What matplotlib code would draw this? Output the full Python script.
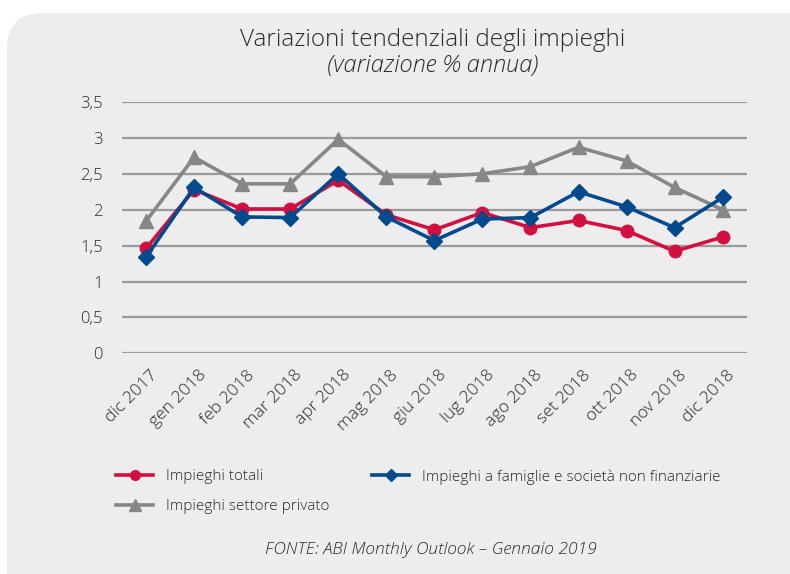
import matplotlib
matplotlib.use("Agg")
import matplotlib.pyplot as plt
import matplotlib.transforms as mtransforms
from matplotlib.patches import FancyBboxPatch
from matplotlib.lines import Line2D

plt.rcParams['font.family'] = ['Open Sans', 'DejaVu Sans']

# data
mesi = ["dic 2017", "gen 2018", "feb 2018", "mar 2018", "apr 2018", "mag 2018",
        "giu 2018", "lug 2018", "ago 2018", "set 2018", "ott 2018", "nov 2018",
        "dic 2018"]
totali = [1.46, 2.28, 2.01, 2.01, 2.41, 1.93, 1.72, 1.96, 1.75, 1.85, 1.71, 1.42, 1.62]
famiglie = [1.34, 2.31, 1.90, 1.89, 2.50, 1.90, 1.57, 1.87, 1.89, 2.25, 2.04, 1.75, 2.17]
privato = [1.84, 2.73, 2.36, 2.36, 2.98, 2.46, 2.46, 2.50, 2.60, 2.87, 2.68, 2.31, 2.00]
y_ticks = [0, 0.5, 1, 1.5, 2, 2.5, 3, 3.5]
y_labels = ["0", "0,5", "1", "1,5", "2", "2,5", "3", "3,5"]

RED = "#d20f3f"
BLUE = "#004a8d"
GREY = "#87878a"
BG = "#ededed"
TXT = "#2a2a2a"

W, H = 790, 574
fig = plt.figure(figsize=(W / 100, H / 100), dpi=100)
fig.patch.set_facecolor("white")

# rounded grey panel
panel = FancyBboxPatch((7 / W, -0.1), 1.2, (H - 13) / H + 0.1,
                       boxstyle="round,pad=0,rounding_size=0.045",
                       transform=fig.transFigure, facecolor=BG, edgecolor="none",
                       zorder=-10, mutation_aspect=W / H)
fig.patches.append(panel)

ax = fig.add_axes([122 / W, 1 - 353.3 / H, (746.7 - 122) / W, (353.3 - 102) / H])
ax.set_facecolor("none")

x = list(range(len(mesi)))
ax.plot(x, privato, color=GREY, lw=2.6, marker="^", ms=10, zorder=3,
        label="Impieghi settore privato")
ax.plot(x, totali, color=RED, lw=2.6, marker="o", ms=9, zorder=4,
        label="Impieghi totali")
ax.plot(x, famiglie, color=BLUE, lw=2.6, marker="D", ms=8, zorder=5,
        label="Impieghi a famiglie e società non finanziarie")

ax.set_xlim(-0.5, len(mesi) - 0.5)
ax.set_ylim(0, 3.5)
ax.set_yticks(y_ticks)
ax.set_yticklabels(y_labels, fontsize=12, color=TXT, fontweight="light")
ax.yaxis.grid(True, color="#9b9b9b", lw=1.6)
ax.set_axisbelow(True)
ax.tick_params(axis="y", length=0, pad=14)
ax.tick_params(axis="x", length=0, pad=10)
ax.set_xticks(x)
ax.set_xticklabels(mesi, rotation=45, ha="right", va="top", rotation_mode="anchor",
                   fontsize=12.5, color=TXT, fontweight="light")
shift = mtransforms.ScaledTranslation(4 / 100, 0, fig.dpi_scale_trans)
for lbl in ax.get_xticklabels():
    lbl.set_transform(lbl.get_transform() + shift)
for s in ax.spines.values():
    s.set_visible(False)

fig.text(433 / W, 1 - 40 / H, "Variazioni tendenziali degli impieghi",
         ha="center", va="center", fontsize=17.5, color=TXT, fontweight="light")
fig.text(433 / W, 1 - 66 / H, "(variazione % annua)", ha="center", va="center",
         fontsize=17, style="italic", color=TXT, fontweight="light")

# legend entries placed individually
def entry(px, py, color, marker, ms, text):
    h = Line2D([], [], color=color, lw=2.6, marker=marker, ms=ms)
    lg = fig.legend([h], [text], loc="center left",
                    bbox_to_anchor=(px / W, 1 - py / H), frameon=False,
                    prop={"size": 11, "weight": "light"},
                    handlelength=2.45, handletextpad=0.8,
                    borderpad=0, borderaxespad=0, labelcolor=TXT)
    return lg

entry(116, 477, RED, "o", 7, "Impieghi totali")
entry(372, 477, BLUE, "D", 6, "Impieghi a famiglie e società non finanziarie")
entry(116, 507, GREY, "^", 8, "Impieghi settore privato")

fig.text(431 / W, 1 - 550 / H, "FONTE: ABI Monthly Outlook \u2013 Gennaio 2019",
         ha="center", va="center", fontsize=12.5, style="italic", color=TXT,
         fontweight="light")

fig.savefig("out.png", dpi=100, facecolor=fig.get_facecolor())
